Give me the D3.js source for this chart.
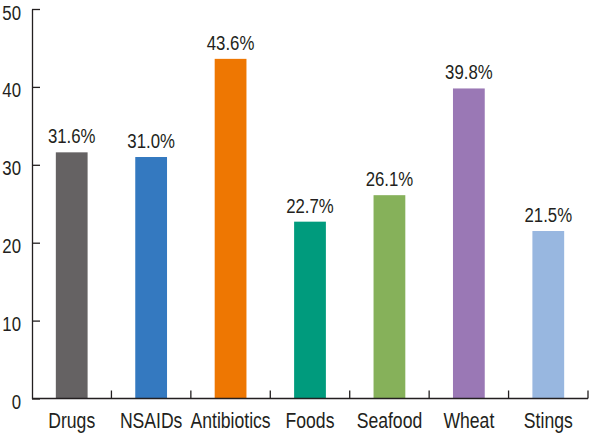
<!DOCTYPE html>
<html><head><meta charset="utf-8">
<script src="https://cdn.jsdelivr.net/npm/d3@7"></script>
<style>
html,body{margin:0;padding:0;background:#fff;}
svg{display:block;}
text{font-family:"Liberation Sans","Arial",sans-serif;fill:#231f20;}
</style></head>
<body>
<script>
const categories = ["Drugs","NSAIDs","Antibiotics","Foods","Seafood","Wheat","Stings"];
const values = [31.6, 31.0, 43.6, 22.7, 26.1, 39.8, 21.5];
const valueLabels = ["31.6%","31.0%","43.6%","22.7%","26.1%","39.8%","21.5%"];
const colors = ["#656263","#3479c0","#ee7702","#009b7d","#86b15a","#9a78b5","#98b7e0"];
const yTicks = [0,10,20,30,40,50];

const W = 590, H = 434, SX = 0.8;
const svg = d3.select("body").append("svg").attr("width", W).attr("height", H);
const x = d3.scaleBand().domain(categories).range([32, 588]).paddingInner(0.6).paddingOuter(0.3);
const xb = d3.scaleBand().domain(categories).range([32, 588]);
const y = d3.scaleLinear().domain([0, 50]).range([398.5, 9]);
const ink = "#231f20";

// bars
svg.selectAll("rect.bar").data(categories).enter().append("rect")
  .attr("class","bar")
  .attr("x", d => x(d))
  .attr("width", x.bandwidth())
  .attr("y", (d,i) => y(values[i]))
  .attr("height", (d,i) => y(0) - y(values[i]))
  .attr("fill", (d,i) => colors[i]);

// value labels
svg.selectAll("text.val").data(categories).enter().append("text")
  .attr("class","val")
  .attr("transform", (d,i) => `translate(${x(d) + x.bandwidth()/2},${y(values[i]) - 9}) scale(${SX},1)`)
  .attr("text-anchor","middle")
  .style("font-size","21px")
  .text((d,i) => valueLabels[i]);

// y axis
const gy = svg.append("g").attr("transform","translate(32,0)")
  .call(d3.axisRight(y).tickValues(yTicks).tickSize(8).tickSizeOuter(0).tickFormat(d3.format("d")));
gy.select(".domain").attr("stroke",ink).attr("stroke-width",1.3);
gy.selectAll(".tick line").attr("stroke",ink).attr("stroke-width",1.3);
gy.selectAll(".tick text")
  .attr("x", null).attr("dy", null)
  .attr("transform", "translate(-11,10) scale(" + SX + ",1)")
  .attr("text-anchor","end")
  .style("font-size","21px").style("font-family",'"Liberation Sans",Arial,sans-serif').attr("fill",ink);

// x axis line
svg.append("line").attr("x1",32).attr("x2",588).attr("y1",y(0)).attr("y2",y(0))
  .attr("stroke",ink).attr("stroke-width",1.3);
// x ticks (band boundaries)
svg.selectAll("line.xt").data(categories).enter().append("line")
  .attr("class","xt")
  .attr("x1", d => xb(d) + xb.bandwidth()).attr("x2", d => xb(d) + xb.bandwidth())
  .attr("y1", y(0)).attr("y2", y(0) - 8)
  .attr("stroke",ink).attr("stroke-width",1.3);
// x labels
svg.selectAll("text.cat").data(categories).enter().append("text")
  .attr("class","cat")
  .attr("transform", d => `translate(${xb(d) + xb.bandwidth()/2},428) scale(${SX},1)`)
  .attr("text-anchor","middle")
  .style("font-size","22px")
  .text(d => d);
</script>
</body></html>
